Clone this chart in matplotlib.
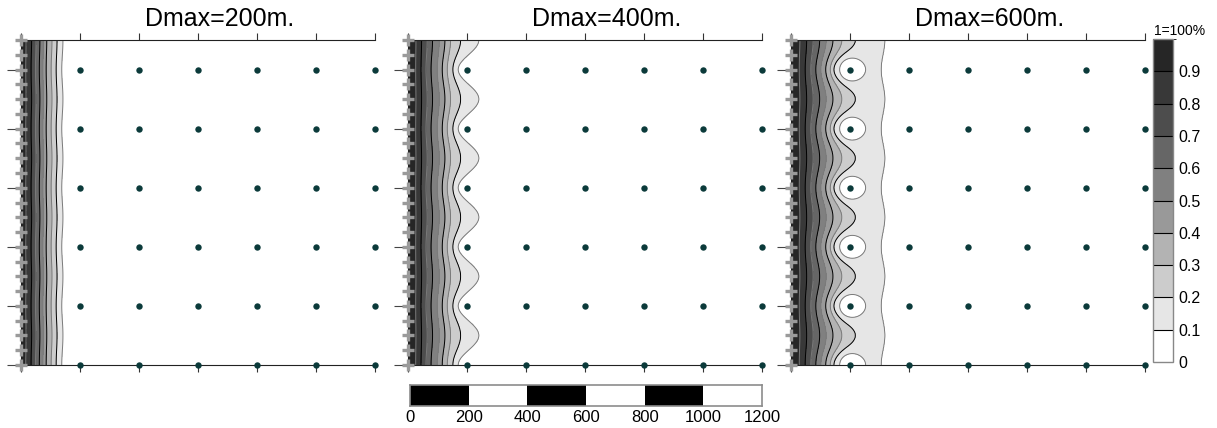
import numpy as np
import matplotlib
matplotlib.use("Agg")
import matplotlib.pyplot as plt
from matplotlib.colors import ListedColormap, BoundaryNorm
from matplotlib.colorbar import ColorbarBase

plt.rcParams['font.family'] = ['Liberation Sans', 'DejaVu Sans']

# ---------------- data ----------------
titles = ["Dmax=200m.", "Dmax=400m.", "Dmax=600m."]
level_values = [1.0, 0.9, 0.8, 0.7, 0.6, 0.5, 0.4, 0.3, 0.2, 0.1, 0.0]
# distance (m) from the left edge at which each level is reached,
# on rows midway between receivers ("mid") and on receiver rows ("row")
mid_200 = [0, 17, 36, 51, 64, 76, 87, 105, 122, 142, 165]
row_200 = [0, 16, 34, 49, 62, 74, 85, 102, 119, 138, 160]
mid_400 = [0, 27, 46, 65, 83, 106, 125, 144, 178, 240, 275]
row_400 = [0, 26, 44, 61, 78, 99, 116, 133, 152, 170, 200]
mid_600 = [0, 30, 53, 75, 97, 119, 142, 172, 218, 318, 360]
row_600 = [0, 28, 48, 67, 84, 101, 118, 135, 150, 306, 350]
# local reduction around the first column of receivers: depth, radius (m)
dip_depth = [0.0, 0.0, 0.2]
dip_radius = [25, 25, 28]
dot_x = [200, 400, 600, 800, 1000, 1200]
dot_y = [0, 200, 400, 600, 800, 1000]
cross_y = list(range(0, 1101, 50))
fill_levels = [0, 0.1, 0.2, 0.3, 0.4, 0.5, 0.6, 0.7, 0.8, 0.9, 1.0]
fill_colors = ['#ffffff', '#e6e6e6', '#cccccc', '#b3b3b3', '#999999',
               '#808080', '#666666', '#4d4d4d', '#383838', '#262626']
line_levels = [0.1, 0.2, 0.3, 0.4, 0.5, 0.6, 0.7, 0.8, 0.9]
cbar_labels = ["0", "0.1", "0.2", "0.3", "0.4", "0.5", "0.6", "0.7", "0.8", "0.9"]
scale_ticks = [0, 200, 400, 600, 800, 1000, 1200]
scale_starts = [0, 200, 400, 600, 800, 1000]
scale_colors = ['black', 'white', 'black', 'white', 'black', 'white']
mid_profiles = [mid_200, mid_400, mid_600]
row_profiles = [row_200, row_400, row_600]

# ---------------- figure ----------------
W, H = 1217, 428
fig = plt.figure(figsize=(W / 100, H / 100), dpi=100)


def px_axes(l, t, r, b):
    return fig.add_axes([l / W, 1 - b / H, (r - l) / W, (b - t) / H])


xg = np.linspace(0, 1200, 601)
yg = np.linspace(0, 1100, 551)
spacing = dot_y[1] - dot_y[0]

lefts = [21, 408, 791]
pw = 354.4
top, bottom = 40.0, 365.0

for i in range(3):
    ax = px_axes(lefts[i], top, lefts[i] + pw, bottom)
    Z = np.zeros((len(yg), len(xg)))
    mid_p = np.array(mid_profiles[i], float)
    row_p = np.array(row_profiles[i], float)
    for j, yy in enumerate(yg):
        w = np.cos(np.pi * yy / spacing) ** 2
        pos = mid_p * (1 - w) + row_p * w
        Z[j] = np.interp(xg, pos, level_values)
    X, Y = np.meshgrid(xg, yg)
    for yy in dot_y:
        Z -= dip_depth[i] * np.exp(-((X - dot_x[0]) ** 2 + (Y - yy) ** 2) / (2 * dip_radius[i] ** 2))
    Z = np.clip(Z, 0, 0.999)
    ax.contourf(X, Y, Z, levels=fill_levels, colors=fill_colors, zorder=1)
    lc = ['#7a7a7a' if k % 2 == 0 else 'black' for k in range(len(line_levels))]
    ax.contour(X, Y, Z, levels=line_levels, colors=lc, linewidths=0.7, zorder=2)

    ax.set_xlim(0, 1200)
    ax.set_ylim(0, 1100)
    ax.set_xticks(scale_ticks)
    ax.set_yticks(dot_y)
    ax.tick_params(axis='x', top=True, bottom=True, labeltop=False, labelbottom=False,
                   direction='out', length=5, width=0.8, color='#333333')
    ax.tick_params(axis='y', left=True, right=False, labelleft=False,
                   direction='out', length=10, width=0.8, color='#444444')
    ax.spines['right'].set_visible(False)
    for s in ['top', 'bottom', 'left']:
        ax.spines[s].set_linewidth(0.8)
        ax.spines[s].set_color('#222222')

    DX, DY = np.meshgrid(dot_x, dot_y)
    ax.plot(DX.ravel(), DY.ravel(), 'o', color='#0b3a3a', ms=4.6, mec='none',
            clip_on=False, zorder=6)
    ax.plot(np.zeros(len(cross_y)), cross_y, '+', color='#9a9a9a', ms=8, mew=2.4,
            clip_on=False, zorder=5)

    fig.text((lefts[i] + pw / 2 + 21) / W, 1 - 19 / H, titles[i],
             ha='center', va='center', fontsize=18)

# ---------------- colorbar ----------------
cax = px_axes(1153, 39, 1173, 362)
cmap = ListedColormap(fill_colors)
norm = BoundaryNorm(fill_levels, cmap.N)
cb = ColorbarBase(cax, cmap=cmap, norm=norm, boundaries=fill_levels,
                  ticks=fill_levels[:-1], drawedges=True)
cb.outline.set_edgecolor('#888888')
cb.outline.set_linewidth(1.0)
cb.dividers.set_color('black')
cb.dividers.set_linewidth(0.8)
cax.set_yticklabels(cbar_labels)
cax.tick_params(length=0, labelsize=11.5, pad=4)
fig.text(1154 / W, 1 - 31 / H, "1=100%", ha='left', va='center', fontsize=10)

# ---------------- scale bar ----------------
sax = px_axes(410, 385, 762, 406)
sax.bar(scale_starts, [200] * len(scale_starts), width=200, bottom=0, align='edge',
        color=scale_colors, edgecolor='none')
sax.set_xlim(0, 1200)
sax.set_ylim(0, 200)
sax.set_yticks([])
sax.set_xticks(scale_ticks)
sax.set_xticklabels([str(v) for v in scale_ticks])
sax.tick_params(axis='x', length=0, labelsize=12, pad=3)
for s in sax.spines.values():
    s.set_color('#8c8c8c')
    s.set_linewidth(1.2)

fig.savefig("out.png", dpi=100)
